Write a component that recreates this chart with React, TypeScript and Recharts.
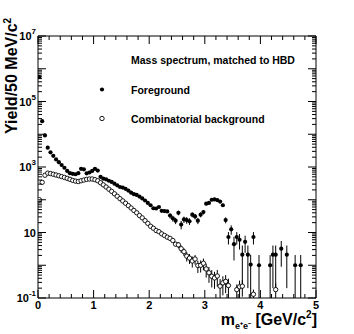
import React from "react";
import { ScatterChart, Scatter, XAxis, YAxis, ErrorBar } from "recharts";

// 50 MeV/c2 mass bins, values read bin by bin from the spectrum
const BIN_WIDTH = 0.05;

const foreground: (number | null)[] = [
  5.6e5, 2.5e4, 9.2e3, 3.9e3, 2.8e3, 2.2e3, 1.7e3, 1.4e3, 1.15e3, 950,
  760, 650, 620, 600, 650, 880, 850, 640, 680, 760,
  880, 780, 500, 440, 420, 380, 350, 310, 275, 245,
  235, 215, 190, 165, 148, 140, 125, 110, 95, 80,
  68, 55, 54, 60, 46, 45, 44, 33, 27, 23,
  40, 17.5, 25, 24, 22, 35, 31, 23, 35, 42,
  76, 80, 100, 102, 98, 88, 68, 24, 7.3, 12.5,
  4.4, 7.3, 6, 2.1, 5.2, 2.1, 1.05, 7.3, null, 1,
  null, null, null, 1, 2.1, 2.1, null, 3.2, null, 2.1,
  null, null, 1, null, 1,
];

// error half-widths; 0 where the bar hides under the marker
const foregroundErr: number[] = [
  0, 0, 0, 0, 0, 0, 0, 0, 0, 0,
  0, 0, 0, 0, 0, 0, 0, 0, 0, 0,
  0, 0, 0, 0, 0, 0, 0, 0, 0, 0,
  0, 0, 0, 0, 0, 0, 0, 0, 0, 0,
  0, 0, 0, 0, 0, 0, 0, 6, 5.5, 5,
  6.5, 5, 5.5, 5.5, 5, 6, 6, 5, 6, 6.5,
  9, 9, 10, 10, 10, 9.5, 8, 5, 3, 4,
  3, 3, 3, 1.9, 2.8, 1.9, 1.05, 3, 0, 1.05,
  0, 0, 0, 1.05, 1.9, 1.9, 0, 2.3, 0, 1.9,
  0, 0, 1.05, 0, 1.05,
];

const background: (number | null)[] = [
  100, 340, 560, 650, 630, 600, 570, 540, 510, 480,
  450, 420, 390, 370, 360, 380, 400, 420, 430, 430,
  410, 380, 330, 285, 245, 210, 180, 152, 128, 108,
  92, 78, 66, 56, 47, 40, 33, 28, 23, 19,
  15.5, 13.5, 11.5, 10.6, 9.1, 8.1, 7.2, 6.6, 5.7, 4.4,
  4.2, 3.2, 2.6, 1.9, 1.65, 1.35, 1.55, 0.98, 1.0, 1.15,
  0.77, 0.59, 0.46, 0.41, 0.47, 0.23, 0.29, 0.32, 0.24, null,
  null, 0.18, 0.22, 0.23, null, null, null, 0.13, null, null,
  null, null, null, null, null, 0.18,
];

const backgroundErr: number[] = [
  0, 0, 0, 0, 0, 0, 0, 0, 0, 0,
  0, 0, 0, 0, 0, 0, 0, 0, 0, 0,
  0, 0, 0, 0, 0, 0, 0, 0, 0, 0,
  0, 0, 0, 0, 0, 0, 0, 0, 0, 0,
  0, 0, 0, 0, 0, 0, 0, 0, 0, 0,
  0.9, 0.8, 0.7, 0.6, 0.55, 0.5, 0.5, 0.4, 0.4, 0.45,
  0.35, 0.3, 0.25, 0.22, 0.25, 0.15, 0.17, 0.18, 0.15, 0,
  0, 0.08, 0.12, 0.12, 0, 0, 0, 0.05, 0, 0,
  0, 0, 0, 0, 0, 0.1,
];

const xTicks = [
  0, 0.2, 0.4, 0.6, 0.8, 1, 1.2, 1.4, 1.6, 1.8, 2, 2.2, 2.4, 2.6, 2.8,
  3, 3.2, 3.4, 3.6, 3.8, 4, 4.2, 4.4, 4.6, 4.8, 5,
];
const yDecades = [0.1, 1, 10, 100, 1e3, 1e4, 1e5, 1e6, 1e7];
const yLabelled = [-1, 1, 3, 5, 7];

const Y_MIN = 0.1;
const Y_MAX = 1e7;
const FONT = "'Liberation Sans', Arial, Helvetica, sans-serif";

const yTicks = yDecades.flatMap((d) =>
  d === Y_MAX ? [d] : [1, 2, 3, 4, 5, 6, 7, 8, 9].map((m) => m * d)
);

function toPoints(values: (number | null)[], errs: number[]) {
  const out: { x: number; y: number; err: [number, number] }[] = [];
  values.forEach((v, i) => {
    if (v == null) return;
    const e = errs[i] || 0;
    const low = Math.max(v - e, Y_MIN);
    out.push({ x: (i + 0.5) * BIN_WIDTH, y: v, err: [v - low, e] });
  });
  return out;
}

const fgPoints = toPoints(foreground, foregroundErr);
const bgPoints = toPoints(background, backgroundErr);

const isDecade = (v: number) => {
  const l = Math.log10(v);
  return Math.abs(l - Math.round(l)) < 1e-6;
};
const isInteger = (v: number) => Math.abs(v - Math.round(v)) < 1e-6;

function LeftTick(props: any) {
  const { x, y, payload } = props;
  const v = payload.value;
  const major = isDecade(v);
  const exp = Math.round(Math.log10(v));
  return (
    <g>
      <line x1={x} x2={x + (major ? 8 : 4)} y1={y} y2={y} stroke="#000" strokeWidth={1} />
      {major && yLabelled.includes(exp) && (
        <text x={x - 2} y={y + 4} textAnchor="end" fontFamily={FONT} fontWeight="bold" fontSize={11} fill="#000">
          10
          {exp !== 1 && (
            <tspan dy={-6} fontSize={8}>
              {exp}
            </tspan>
          )}
        </text>
      )}
    </g>
  );
}

function RightTick(props: any) {
  const { x, y, payload } = props;
  const major = isDecade(payload.value);
  return <line x1={x} x2={x - (major ? 8 : 4)} y1={y} y2={y} stroke="#000" strokeWidth={1} />;
}

function BottomTick(props: any) {
  const { x, y, payload } = props;
  const v = payload.value;
  const major = isInteger(v);
  return (
    <g>
      <line x1={x} x2={x} y1={y} y2={y - (major ? 8 : 4)} stroke="#000" strokeWidth={1} />
      {major && (
        <text x={x} y={y + 11} textAnchor="middle" fontFamily={FONT} fontWeight="bold" fontSize={11} fill="#000">
          {Math.round(v)}
        </text>
      )}
    </g>
  );
}

function TopTick(props: any) {
  const { x, y, payload } = props;
  const major = isInteger(payload.value);
  return <line x1={x} x2={x} y1={y} y2={y + (major ? 8 : 4)} stroke="#000" strokeWidth={1} />;
}

const FilledDot = (props: any) => <circle cx={props.cx} cy={props.cy} r={2.1} fill="#000" />;
const OpenDot = (props: any) => (
  <circle cx={props.cx} cy={props.cy} r={2.2} fill="#fff" stroke="#000" strokeWidth={0.9} />
);

export default function App() {
  return (
    <div style={{ position: "absolute", left: 0, top: 0, width: 354, height: 334, background: "#fff" }}>
      <ScatterChart width={354} height={334} margin={{ top: 0, right: 0, bottom: 0, left: 0 }}>
        <XAxis
          xAxisId="bottom"
          type="number"
          dataKey="x"
          domain={[0, 5]}
          ticks={xTicks}
          interval={0}
          height={36}
          tickSize={0}
          tickMargin={0}
          tick={BottomTick}
          axisLine={{ stroke: "#000" }}
          allowDataOverflow
        />
        <XAxis
          xAxisId="top"
          orientation="top"
          type="number"
          dataKey="x"
          domain={[0, 5]}
          ticks={xTicks}
          interval={0}
          height={36}
          tickSize={0}
          tickMargin={0}
          tick={TopTick}
          axisLine={{ stroke: "#000" }}
          allowDataOverflow
        />
        <YAxis
          yAxisId="left"
          type="number"
          dataKey="y"
          scale="log"
          domain={[Y_MIN, Y_MAX]}
          ticks={yTicks}
          interval={0}
          width={38}
          tickSize={0}
          tickMargin={0}
          tick={LeftTick}
          axisLine={{ stroke: "#000" }}
          allowDataOverflow
        />
        <YAxis
          yAxisId="right"
          orientation="right"
          type="number"
          dataKey="y"
          scale="log"
          domain={[Y_MIN, Y_MAX]}
          ticks={yTicks}
          interval={0}
          width={38}
          tickSize={0}
          tickMargin={0}
          tick={RightTick}
          axisLine={{ stroke: "#000" }}
          allowDataOverflow
        />
        <Scatter
          name="Combinatorial background"
          data={bgPoints}
          xAxisId="bottom"
          yAxisId="left"
          shape={OpenDot}
          isAnimationActive={false}
        >
          <ErrorBar dataKey="err" direction="y" width={0} stroke="#000" strokeWidth={1} />
        </Scatter>
        <Scatter
          name="Foreground"
          data={fgPoints}
          xAxisId="bottom"
          yAxisId="left"
          shape={FilledDot}
          isAnimationActive={false}
        >
          <ErrorBar dataKey="err" direction="y" width={0} stroke="#000" strokeWidth={1} />
        </Scatter>
      </ScatterChart>
      <svg
        width={354}
        height={334}
        style={{ position: "absolute", left: 0, top: 0, pointerEvents: "none" }}
        fontFamily={FONT}
        fontWeight="bold"
      >
        <text transform="translate(17,134) rotate(-90)" fontSize={16} fill="#000">
          Yield/50 MeV/c
          <tspan dy={-6} fontSize={10}>
            2
          </tspan>
        </text>
        <text x={317} y={325} textAnchor="end" fontSize={16} fill="#000">
          m
          <tspan fontSize={9} dy={4}>
            e⁺e⁻
          </tspan>
          <tspan dy={-4}> [GeV/c</tspan>
          <tspan fontSize={10} dy={-7}>
            2
          </tspan>
          <tspan dy={7}>]</tspan>
        </text>
        <text x={131} y={64} fontSize={10.5} fill="#000">
          Mass spectrum, matched to HBD
        </text>
        <circle cx={102} cy={89.5} r={2.1} fill="#000" />
        <text x={131} y={93.5} fontSize={10.5} fill="#000">
          Foreground
        </text>
        <circle cx={102} cy={118.5} r={2.2} fill="#fff" stroke="#000" strokeWidth={0.9} />
        <text x={131} y={122.5} fontSize={10.5} fill="#000">
          Combinatorial background
        </text>
      </svg>
    </div>
  );
}
